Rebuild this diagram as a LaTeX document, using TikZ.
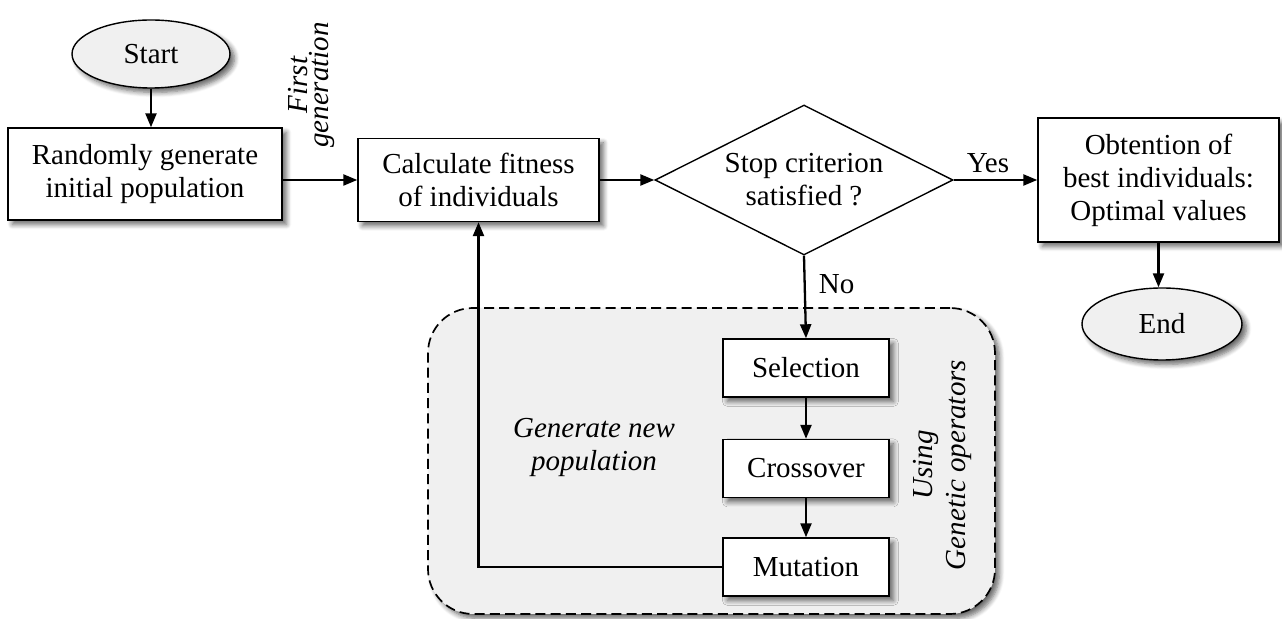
\documentclass[tikz,border=0pt]{standalone}
\usepackage{fontspec}
\setmainfont{Liberation Serif}
\usetikzlibrary{shapes.geometric,arrows.meta,shadows.blur}
\definecolor{termgray}{HTML}{F0F0F0}
\definecolor{grpgray}{HTML}{F0F0F0}
\begin{document}
\begin{tikzpicture}[x=0.5pt,y=-0.5pt,
  every node/.style={font=\fontsize{14.5}{16.5}\selectfont},
  shd/.style={blur shadow={shadow xshift=2.2pt,shadow yshift=-2.2pt,shadow blur steps=6,shadow blur radius=2.5pt,shadow opacity=60}},
  procbox/.style={draw, line width=0.7pt, fill=white, align=center, inner sep=0pt, shd},
  term/.style={ellipse, draw, line width=0.7pt, fill=termgray, inner sep=0pt, shd},
  decision/.style={diamond, draw, line width=0.7pt, fill=white, align=center, inner sep=0pt, aspect=2},
  grp/.style={draw, line width=0.85pt, dash pattern=on 5pt off 2.6pt, rounded corners=22.5pt, fill=grpgray, inner sep=0pt, shd},
  itlbl/.style={font=\fontsize{14.5}{16.5}\selectfont\itshape, align=center, inner sep=0pt},
  arr/.style={line width=1.15pt, -{Triangle[length=7pt,width=5.5pt]}},
  lbl/.style={inner sep=0pt}
]
\useasboundingbox (0,0) rectangle (1282,619);

% group container
\node[grp, minimum width=283.5pt, minimum height=153pt] (group) at (711.5,461) {};

% nodes
\node[term, minimum width=79pt, minimum height=34pt] (start) at (151,54) {Start};
\node[procbox, minimum width=137pt, minimum height=46pt] (rand) at (145,174) {Randomly generate\\initial population};
\node[procbox, minimum width=120.5pt, minimum height=41.5pt] (calc) at (478.5,180) {Calculate fitness\\of individuals};
\node[decision, minimum width=149pt, minimum height=75pt] (dec) at (804,180) {Stop criterion\\satisfied ?};
\node[procbox, minimum width=120.5pt, minimum height=62pt] (best) at (1158.5,180) {Obtention of\\best individuals:\\Optimal values};
\node[term, minimum width=80pt, minimum height=36pt] (end) at (1162,324) {End};
\node[procbox, minimum width=83pt, minimum height=29pt] (sel) at (806,368) {Selection};
\node[procbox, minimum width=83pt, minimum height=29pt] (cross) at (806,468.5) {Crossover};
\node[procbox, minimum width=83pt, minimum height=29pt] (mut) at (806,567) {Mutation};

% italic annotations
\node[itlbl, rotate=90, font=\fontsize{14.5}{10.5}\selectfont\itshape] (firstgen) at (311,85) {First\\generation};
\node[itlbl] (gennew) at (594,447) {Generate new\\population};
\node[itlbl, rotate=90] (using) at (942,465) {Using\\Genetic operators};

% connectors
\draw[arr] (start.south) -- (start.south |- rand.north);
\draw[arr] (rand.east |- calc.west) -- (calc.west);
\draw[arr] (calc.east) -- (dec.west);
\draw[arr] (dec.east) -- node[lbl, pos=0.41, anchor=south, yshift=3pt] {Yes} (best.west);
\draw[arr] (best.south) -- (best.south |- end.north);
\draw[arr] (dec.south) -- node[lbl, pos=0.35, anchor=west, xshift=6.5pt] {No} (sel.north);
\draw[arr] (sel.south) -- (cross.north);
\draw[arr] (cross.south) -- (mut.north);
\draw[arr] (mut.west) -| (calc.south);
\end{tikzpicture}
\end{document}
